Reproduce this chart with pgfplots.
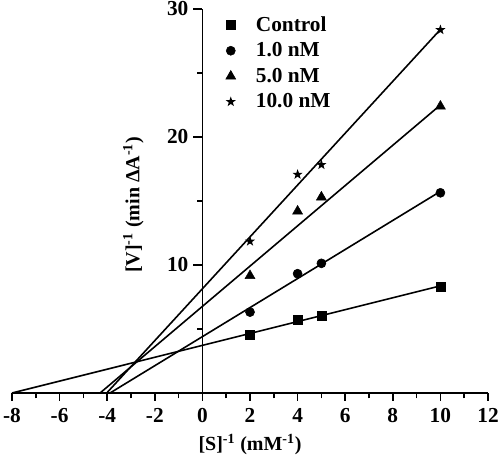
\documentclass[border=0pt]{standalone}
\usepackage{fontspec}
\setmainfont{Liberation Serif}
\usepackage{pgfplots}
\pgfplotsset{compat=1.18}
\pgfdeclareplotmark{fstar}{%
  \pgfpathmoveto{\pgfpointpolar{90}{\pgfplotmarksize}}%
  \pgfpathlineto{\pgfpointpolar{126}{0.40\pgfplotmarksize}}%
  \pgfpathlineto{\pgfpointpolar{162}{\pgfplotmarksize}}%
  \pgfpathlineto{\pgfpointpolar{198}{0.40\pgfplotmarksize}}%
  \pgfpathlineto{\pgfpointpolar{234}{\pgfplotmarksize}}%
  \pgfpathlineto{\pgfpointpolar{270}{0.40\pgfplotmarksize}}%
  \pgfpathlineto{\pgfpointpolar{306}{\pgfplotmarksize}}%
  \pgfpathlineto{\pgfpointpolar{342}{0.40\pgfplotmarksize}}%
  \pgfpathlineto{\pgfpointpolar{18}{\pgfplotmarksize}}%
  \pgfpathlineto{\pgfpointpolar{54}{0.40\pgfplotmarksize}}%
  \pgfpathclose
  \pgfusepathqfill}
\begin{document}
\begin{tikzpicture}
\begin{axis}[
  name=main,
  scale only axis, width=357pt, height=288pt,
  xmin=-8, xmax=12, ymin=0, ymax=30,
  clip=false,
  axis x line=bottom, axis y line=none,
  axis line style={-, line width=1.2pt},
  xtick={-8,-6,...,12}, minor xtick={-7,-5,...,11},
  ytick=\empty,
  tick align=outside, major tick length=6pt, minor tick length=4pt,
  tick style={line width=1.1pt, black},
  /pgf/number format/assume math mode=true,
  tick label style={font=\fontsize{16}{19}\selectfont\bfseries},
  xticklabel style={yshift=-2pt},
  xlabel={[S]\textsuperscript{-1} (mM\textsuperscript{-1})},
  every axis x label/.style={at={(axis description cs:0.5,-0.135)}, anchor=center, font=\fontsize{15}{18}\selectfont\bfseries},
  legend style={draw=none, fill=none, at={(axis description cs:0.44,0.995)}, anchor=north west,
    font=\fontsize{16}{19}\selectfont\bfseries, row sep=3pt, column sep=13pt},
  legend cell align=left,
]
\addplot[black, line width=1.2pt, forget plot] coordinates {(-8,0) (10,8.37)};
\addplot[black, line width=1.2pt, forget plot] coordinates {(-3.88,0) (10,15.75)};
\addplot[black, line width=1.2pt, forget plot] coordinates {(-4.3,0) (10,22.5)};
\addplot[black, line width=1.2pt, forget plot] coordinates {(-4.02,0) (10,28.4)};
\addplot[only marks, mark=square*, mark size=3.3pt, black] coordinates {(2,4.54) (4,5.72) (5,6.05) (10,8.33)};
\addlegendentry{Control}
\addplot[only marks, mark=*, mark size=3.4pt, black] coordinates {(2,6.32) (4,9.32) (5,10.13) (10,15.64)};
\addlegendentry{1.0 nM}
\addplot[only marks, mark=triangle*, mark size=4.3pt, black] coordinates {(2,9.16) (4,14.2) (5,15.3) (10,22.4)};
\addlegendentry{5.0 nM}
\addplot[only marks, mark=fstar, mark size=4pt, black] coordinates {(2,11.85) (4,17.07) (5,17.83) (10,28.37)};
\addlegendentry{10.0 nM}
\coordinate (bl) at (axis description cs:-0.0252,-0.1797);
\coordinate (tr) at (axis description cs:1.0252,1.0234);
\end{axis}
\begin{axis}[
  at={(main.south west)}, anchor=south west, xshift=142.8pt,
  scale only axis, width=214.2pt, height=288pt,
  xmin=0, xmax=12, ymin=0, ymax=30,
  clip=false,
  axis x line=none, axis y line=left,
  axis line style={-, line width=1.2pt},
  xtick=\empty,
  ytick={10,20,30}, minor ytick={5,15,25},
  tick align=outside, major tick length=7pt, minor tick length=4pt,
  tick style={line width=1.1pt, black},
  /pgf/number format/assume math mode=true,
  tick label style={font=\fontsize{16}{19}\selectfont\bfseries},
  ylabel={[V]\textsuperscript{-1} (min ΔA\textsuperscript{-1})},
  every axis y label/.style={at={(axis description cs:-0.242,0.49)}, rotate=90, anchor=center, font=\fontsize{15}{18}\selectfont\bfseries},
]
\end{axis}
\pgfresetboundingbox
\path (bl) rectangle (tr);
\end{tikzpicture}
\end{document}
